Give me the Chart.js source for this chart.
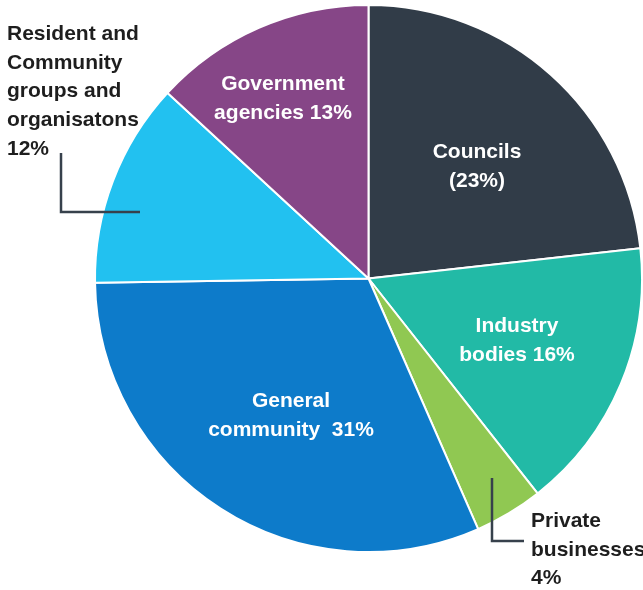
<!DOCTYPE html>
<html>
<head>
<meta charset="utf-8">
<script src="https://cdn.jsdelivr.net/npm/chart.js@4"></script>
<style>
  html, body { margin: 0; padding: 0; background: #fff; }
  #wrap { width: 643px; height: 590px; }
</style>
</head>
<body>
<div id="wrap"><canvas id="pie" width="643" height="590"></canvas></div>
<script>
// slices, clockwise from 12 o'clock
const categories = ['Councils', 'Industry bodies', 'Private businesses', 'General community',
  'Resident and Community groups and organisatons', 'Government agencies'];
const shares = [23, 16, 4, 31, 12, 13];
const sliceColours = ['#313c48', '#22baa6', '#90c852', '#0d7bca', '#22c1f0', '#864687'];

// label text per slice (how it is broken in the original)
const labelLines = [
  ['Councils', '(' + shares[0] + '%)'],
  ['Industry', 'bodies ' + shares[1] + '%'],
  ['Private', 'businesses', shares[2] + '%'],
  ['General', 'community  ' + shares[3] + '%'],
  ['Resident and', 'Community', 'groups and', 'organisatons', shares[4] + '%'],
  ['Government', 'agencies ' + shares[5] + '%']
];

// where each label sits: inside ones are centred, outside ones are left aligned
const labelSpots = [
  { x: 477, y: 158, align: 'center', inside: true },
  { x: 517, y: 332, align: 'center', inside: true },
  { x: 531, y: 527, align: 'left', inside: false, leader: [[492, 478], [492, 541], [524, 541]] },
  { x: 291, y: 407, align: 'center', inside: true },
  { x: 7, y: 40, align: 'left', inside: false, leader: [[61, 153], [61, 212], [140, 212]] },
  { x: 283, y: 90, align: 'center', inside: true }
];

const sliceLabels = {
  id: 'sliceLabels',
  afterDatasetsDraw(chart) {
    const ctx = chart.ctx;
    ctx.save();
    ctx.font = 'bold 21px "Liberation Sans", Arial, sans-serif';
    ctx.textBaseline = 'alphabetic';
    labelSpots.forEach(function (spot, i) {
      if (spot.leader) {
        ctx.beginPath();
        ctx.strokeStyle = '#37414c';
        ctx.lineWidth = 2.5;
        spot.leader.forEach(function (p, k) {
          if (k === 0) ctx.moveTo(p[0], p[1]); else ctx.lineTo(p[0], p[1]);
        });
        ctx.stroke();
      }
      ctx.fillStyle = spot.inside ? '#ffffff' : '#1e1e1e';
      ctx.textAlign = spot.align;
      labelLines[i].forEach(function (line, k) {
        ctx.fillText(line, spot.x, spot.y + k * 28.7);
      });
    });
    ctx.restore();
  }
};

new Chart(document.getElementById('pie').getContext('2d'), {
  type: 'pie',
  data: {
    labels: categories,
    datasets: [{
      data: shares,
      backgroundColor: sliceColours,
      borderColor: '#ffffff',
      borderWidth: 2
    }]
  },
  options: {
    responsive: false,
    animation: false,
    layout: { padding: { top: 4, bottom: 37, left: 94, right: 0 } },
    plugins: {
      legend: { display: false },
      tooltip: { enabled: false }
    }
  },
  plugins: [sliceLabels]
});
</script>
</body>
</html>
